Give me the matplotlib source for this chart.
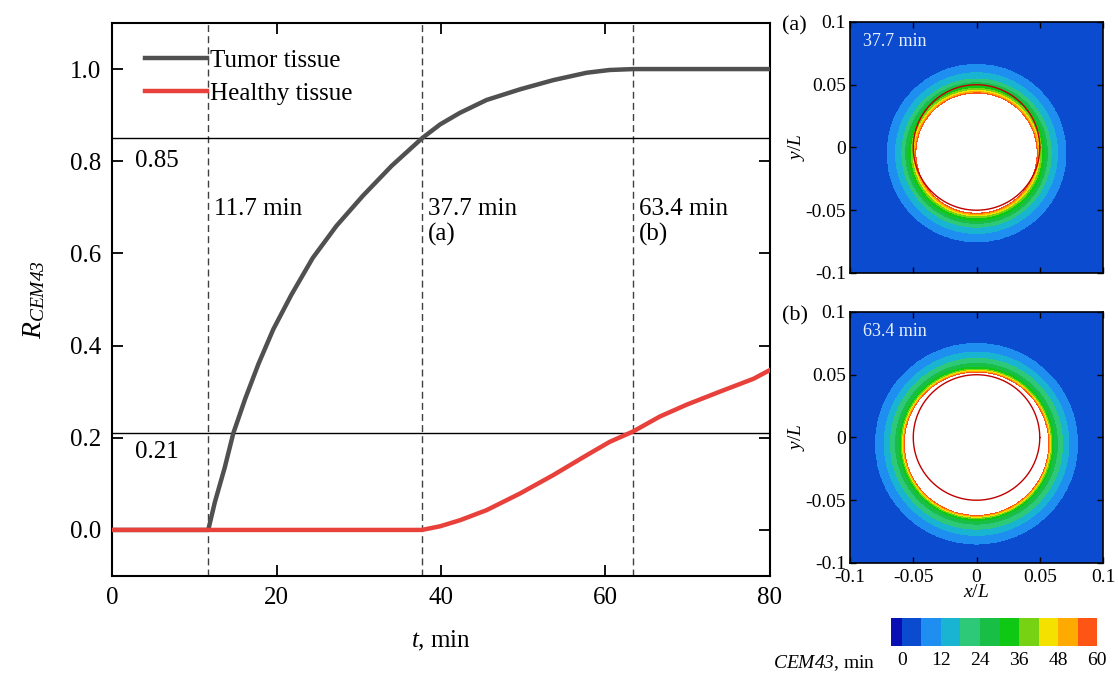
import numpy as np
import matplotlib
matplotlib.use('Agg')
import matplotlib.pyplot as plt
from matplotlib.colors import ListedColormap, BoundaryNorm
from matplotlib.cm import ScalarMappable

plt.rcParams['font.family'] = ['Liberation Serif', 'DejaVu Serif']
plt.rcParams['mathtext.fontset'] = 'custom'
plt.rcParams['mathtext.rm'] = 'Liberation Serif'
plt.rcParams['mathtext.it'] = 'Liberation Serif:italic'
plt.rcParams['mathtext.cal'] = 'Liberation Serif:italic'  # italic digits too

# R_CEM43 curves
tumor_t = [0, 11.7, 12.5, 13.7, 14.75, 16.2, 17.8, 19.6, 21.8, 24.4, 27.3, 30.5, 34.0, 37.7,
           39.9, 42.3, 45.55, 49.6, 53.65, 57.7, 60.5, 63.4, 70, 80]
tumor_R = [0, 0, 0.06, 0.135, 0.21, 0.285, 0.36, 0.435, 0.51, 0.59, 0.66, 0.725, 0.79, 0.85,
           0.880, 0.905, 0.933, 0.956, 0.976, 0.992, 0.998, 1.0, 1.0, 1.0]
healthy_t = [0, 37.7, 39.9, 42.3, 45.55, 49.6, 53.65, 57.7, 60.5, 63.4, 66.6, 69.9, 73.9, 78.0, 80]
healthy_R = [0, 0, 0.008, 0.021, 0.043, 0.079, 0.119, 0.162, 0.191, 0.214, 0.246, 0.272, 0.300,
             0.328, 0.347]

thresholds = [0.85, 0.21]
times = [11.7, 37.7, 63.4]
time_labels = ['11.7 min', '37.7 min\n(a)', '63.4 min\n(b)']

# CEM43 contour levels and the radius (x/L) where each level sits, per snapshot
levels = [60, 54, 48, 42, 36, 30, 24, 18, 12, 6]
radii_a = [0.047, 0.048, 0.049, 0.050, 0.0515, 0.0535, 0.056, 0.059, 0.064, 0.0708]
radii_b = [0.0562, 0.057, 0.0578, 0.0585, 0.0595, 0.061, 0.064, 0.068, 0.073, 0.080]
center_a = (0.0, -0.0045)
center_b = (0.0, -0.005)
tumor_radius = 0.05

cbar_bounds = [-3.3, 0, 6, 12, 18, 24, 30, 36, 42, 48, 54, 60, 63]
cbar_colors = ['#0a0fb4', '#0b4bcf', '#1e8ff0', '#19b4d2', '#2dc878', '#19be46',
               '#0fc814', '#78d214', '#f5e100', '#ffaa00', '#ff5514', '#ffffff']
cbar_ticks = [0, 12, 24, 36, 48, 60]

fig = plt.figure(figsize=(11.18, 6.76), dpi=100)

# ---- main plot
ax = fig.add_axes([0.1002, 0.1479, 0.5885, 0.8181])
for tt in times:
    ax.axvline(tt, color='#404040', lw=1.0, ls=(0, (5, 3)), zorder=1)
for th in thresholds:
    ax.axhline(th, color='black', lw=1.0, zorder=1)
ax.plot(tumor_t, tumor_R, color='#505050', lw=3.2, label='Tumor tissue', zorder=3)
ax.plot(healthy_t, healthy_R, color='#e8403a', lw=3.2, label='Healthy tissue', zorder=3)

ax.text(2.8, 0.80, '0.85', fontsize=18, va='center', ha='left')
ax.text(2.8, 0.17, '0.21', fontsize=18, va='center', ha='left')
for tt, lab in zip(times, time_labels):
    ax.text(tt + 0.7, 0.72, lab, fontsize=18, va='top', ha='left', linespacing=1.15)

ax.set_xlim(0, 80)
ax.set_ylim(-0.1, 1.1)
ax.set_xticks([0, 20, 40, 60, 80])
ax.set_yticks([0.0, 0.2, 0.4, 0.6, 0.8, 1.0])
ax.set_yticklabels(['0.0', '0.2', '0.4', '0.6', '0.8', '1.0'])
ax.tick_params(direction='in', length=8, width=1.3, top=True, right=True, labelsize=18, pad=8)
for s in ax.spines.values():
    s.set_linewidth(1.5)
ax.set_xlabel('$t$, min', fontsize=18, labelpad=14)
ax.set_ylabel(r'$R_{\mathcal{CEM43}}$', fontsize=20, labelpad=16)
ax.legend(loc='upper left', bbox_to_anchor=(0.05, 0.952), frameon=False, fontsize=18,
          handlelength=2.5, handletextpad=0.1, borderpad=0, borderaxespad=0, labelspacing=0.4)

# ---- contour panels
cmap = ListedColormap(cbar_colors)
norm = BoundaryNorm(cbar_bounds, cmap.N)
g = np.linspace(-0.1, 0.1, 600)
X, Y = np.meshgrid(g, g)


def panel(rect, radii, center, label, tag, show_x):
    pax = fig.add_axes(rect)
    r = np.hypot(X - center[0], Y - center[1])
    field = np.interp(r, radii, levels, left=61.5, right=3)
    pax.contourf(X, Y, field, levels=cbar_bounds, cmap=cmap, norm=norm)
    th = np.linspace(0, 2 * np.pi, 400)
    pax.plot(tumor_radius * np.cos(th), tumor_radius * np.sin(th), color='#c00000', lw=1.0)
    pax.set_xlim(-0.1, 0.1)
    pax.set_ylim(-0.1, 0.1)
    ticks = [-0.1, -0.05, 0, 0.05, 0.1]
    tl = ['-0.1', '-0.05', '0', '0.05', '0.1']
    pax.set_xticks(ticks)
    pax.set_yticks(ticks)
    pax.set_yticklabels(tl)
    if show_x:
        pax.set_xticklabels(tl)
        pax.set_xlabel('$x/L$', fontsize=14, labelpad=-1)
    else:
        pax.set_xticklabels([])
    pax.tick_params(direction='in', length=4, width=1.0, top=True, right=True, labelsize=14, pad=3)
    pax.tick_params(axis='x', pad=4)
    for s in pax.spines.values():
        s.set_linewidth(1.2)
    pax.set_ylabel('$y/L$', fontsize=14, labelpad=-1)
    pax.text(0.05, 0.955, label, transform=pax.transAxes, color='#e6f0ff', fontsize=13,
             va='top', ha='left')
    fig.text(rect[0] - 0.061, rect[1] + rect[3] + 0.008, tag, fontsize=16, va='top', ha='left')
    return pax


panel([0.7603, 0.5962, 0.2263, 0.3713], radii_a, center_a, '37.7 min', '(a)', False)
panel([0.7603, 0.1672, 0.2263, 0.3713], radii_b, center_b, '63.4 min', '(b)', True)

# ---- colorbar
cax = fig.add_axes([0.797, 0.0444, 0.1932, 0.0414])
cb = fig.colorbar(ScalarMappable(norm=norm, cmap=cmap), cax=cax, orientation='horizontal',
                  spacing='proportional', ticks=cbar_ticks)
cb.outline.set_visible(False)
cax.minorticks_off()
cax.tick_params(length=0, labelsize=14, pad=4)
cax.text(-0.07, -0.6, r'$\mathcal{CEM43}$, min', transform=cax.transAxes, fontsize=14,
         ha='right', va='center')

fig.savefig('out.png', dpi=100)
